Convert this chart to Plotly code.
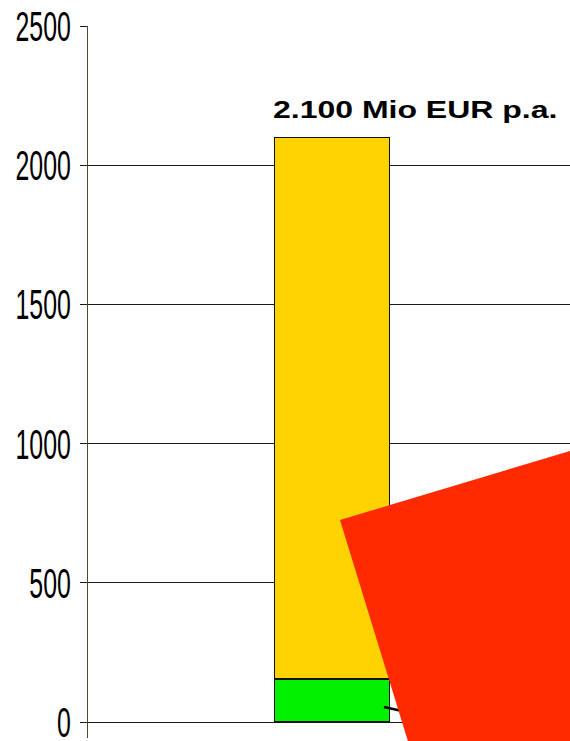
import plotly.graph_objects as go

# Data
categories = ["Summe"]
segment_names = ["Anteil A", "Anteil B"]
green_values = [155]
yellow_values = [1945]  # total 2100
total_label = "2.100 Mio EUR p.a."
tick_values = [0, 500, 1000, 1500, 2000, 2500]
tick_labels = ["0", "500", "1000", "1500", "2000", "2500"]

W, H = 570, 741
L, R, T, B = 88, 0, 26, 3

fig = go.Figure()
fig.add_trace(go.Bar(x=categories, y=green_values, name=segment_names[0],
                     marker=dict(color="#00F000", line=dict(color="#111", width=1.5))))
fig.add_trace(go.Bar(x=categories, y=yellow_values, name=segment_names[1],
                     marker=dict(color="#FFD300", line=dict(color="#111", width=1.5))))

total = green_values[0] + yellow_values[0]
bargap = 0.761
fig.add_annotation(x=-(1 - bargap) / 2, y=total, xref="x", yref="y",
                   text="<b>" + total_label + "</b>", showarrow=False,
                   xanchor="left", yanchor="bottom", yshift=10, xshift=-3,
                   font=dict(family="Liberation Sans, Arial, sans-serif", size=26, color="black"))

pw = W - L - R
ph = H - T - B
def px(x):
    return (x - L) / pw
def py(y):
    return (H - B - y) / ph

shapes = []
# leader line (partially hidden by red panel)
shapes.append(dict(type="line", xref="paper", yref="paper",
                   x0=px(384), y0=py(707), x1=px(420), y1=py(715),
                   line=dict(color="black", width=2.5), layer="above"))
# red decorative panel
pts = [(340, 520), (700, 412), (700, 800), (426, 800)]
path = "M " + " L ".join(f"{px(a):.4f},{py(b):.4f}" for a, b in pts) + " Z"
shapes.append(dict(type="path", xref="paper", yref="paper", path=path,
                   fillcolor="#FF2A00", line=dict(width=0), layer="above"))

fig.update_layout(
    width=W, height=H,
    margin=dict(l=L, r=R, t=T, b=B, pad=0, autoexpand=False),
    barmode="stack", bargap=bargap,
    plot_bgcolor="white", paper_bgcolor="white",
    showlegend=False,
    shapes=shapes,
    xaxis=dict(type="category", showticklabels=False, showgrid=False, automargin=False,
               zeroline=False, showline=False, ticks="", range=[-0.506, 0.494]),
    yaxis=dict(range=[-57.4, 2500], tickvals=tick_values, ticktext=tick_labels,
               automargin=False,
               showgrid=True, gridcolor="#1a1a1a", gridwidth=1.4,
               zeroline=True, zerolinecolor="#1a1a1a", zerolinewidth=1.4,
               showline=True, linecolor="#4a4a30", linewidth=1.3,
               ticks="outside", ticklen=7, tickcolor="#1a1a1a", tickwidth=1.4,
               ticklabelstandoff=3,
               tickfont=dict(family="Liberation Sans, Arial, sans-serif",
                             size=30, color="black")),
)

post = """
(function(){
  document.documentElement.style.margin = '0';
  document.documentElement.style.overflow = 'hidden';
  document.body.style.margin = '0';
  document.body.style.padding = '0';
  document.body.style.overflow = 'hidden';
  var gd = document.getElementById('{plot_id}');
  function sc(el, sx, sy, anchor){
    var applied = el.getAttribute('data-applied');
    var cur = el.getAttribute('transform') || '';
    var base = (applied !== null && cur === applied) ? el.getAttribute('data-base') : cur;
    el.setAttribute('transform', base);
    var bb = el.getBBox();
    var cx = anchor === 'right' ? bb.x + bb.width : bb.x;
    var cy = bb.y + bb.height / 2;
    var tf = base + ' translate(' + cx + ',' + cy + ') scale(' + sx + ',' + sy + ') translate(' + (-cx) + ',' + (-cy) + ')';
    el.setAttribute('data-base', base);
    el.setAttribute('data-applied', tf);
    el.setAttribute('transform', tf);
  }
  function apply(){
    gd.querySelectorAll('g.ytick text').forEach(function(t){ sc(t, 0.83, 1.42, 'right'); });
    gd.querySelectorAll('text.annotation-text').forEach(function(t){ sc(t, 1.23, 0.9, 'left'); });
  }
  apply();
  if (gd.on) gd.on('plotly_afterplot', apply);
})();
"""

fig.write_html("out.html", post_script=post, config={"displayModeBar": False})
